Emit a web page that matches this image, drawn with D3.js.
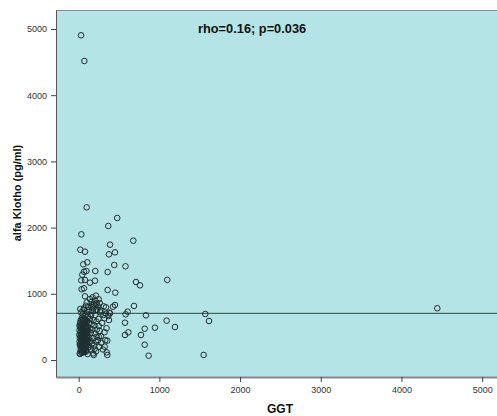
<!DOCTYPE html>
<html>
<head>
<meta charset="utf-8">
<script src="https://cdn.jsdelivr.net/npm/d3@7"></script>
<style>
  body { margin: 0; background: #fff; }
  text { font-family: Arial, "Liberation Sans", sans-serif; }
</style>
</head>
<body>
<svg id="chart" width="497" height="416"></svg>
<script>
// GGT (x) and alfa Klotho (y) values
const ggt = [
  29, 70, 99, 478, 367, 33, 677, 388, 20, 78, 450, 375, 57, 107, 441, 580, 359, 206, 66, 95,
  45, 32, 78, 140, 202, 710, 760, 1098, 37, 66, 359, 454, 78, 173, 214, 248, 206, 160, 685, 450,
  425, 338, 607, 582, 834, 380, 388, 367, 375, 318, 574, 1090, 945, 1193, 818, 615, 574, 772, 818, 867,
  1569, 1615, 1549, 4444, 248, 248, 223, 355, 322, 347, 355, 186, 90, 16,
  20, 66, 107, 161, 190, 223, 243, 214, 268, 310,
  12, 15, 18, 20, 22, 25, 25, 28, 30, 32, 35, 35, 38, 40, 42, 45, 45, 48, 50, 50,
  52, 55, 55, 58, 60, 60, 62, 65, 65, 68, 70, 70, 72, 75, 75, 78, 80, 80, 82, 85,
  85, 88, 90, 90, 92, 95, 95, 98, 100, 100, 105, 105, 110, 110, 115, 115, 120, 120, 125, 130,
  130, 135, 140, 140, 145, 150, 155, 155, 160, 165, 170, 175, 180, 185, 190, 195, 200, 205, 210, 215,
  220, 225, 230, 240, 245, 255, 260, 270, 275, 280, 290, 300, 305, 320, 330, 340, 345, 220, 170, 120,
  60, 30, 100, 140, 180, 260, 90, 50, 10, 8, 15, 40, 65, 110, 200, 180,
  10, 14, 18, 22, 26, 30, 34, 38, 42, 46, 50, 54, 58, 62, 66, 70, 74, 78, 82, 86,
  90, 94, 98, 102, 106, 24, 36, 48, 60, 72, 84, 96, 44, 56, 68
];
const klotho = [
  4905, 4517, 2306, 2145, 2024, 1898, 1802, 1742, 1666, 1636, 1626, 1596, 1445, 1475, 1435, 1415, 1329, 1344, 1334, 1344,
  1289, 1203, 1208, 1168, 1198, 1178, 1128, 1210, 1068, 1083, 1057, 1017, 962, 947, 972, 917, 896, 880, 816, 830,
  805, 796, 730, 690, 675, 715, 705, 665, 604, 630, 563, 594, 488, 498, 473, 418, 378, 378, 231, 65,
  695, 589, 76, 781, 514, 352, 352, 292, 201, 116, 76, 76, 125, 91,
  770, 780, 755, 805, 840, 855, 805, 755, 755, 810,
  280, 330, 220, 420, 500, 180, 600, 260, 370, 310, 450, 150, 540, 230, 640, 350, 290, 410, 200, 520,
  470, 580, 260, 330, 160, 390, 620, 450, 230, 540, 300, 500, 180, 370, 660, 430, 250, 560, 330, 200,
  480, 600, 280, 400, 520, 350, 150, 700, 440, 230, 590, 300, 500, 380, 190, 650, 270, 440, 560, 340,
  730, 200, 480, 620, 290, 410, 680, 160, 540, 250, 460, 740, 330, 600, 220, 520, 400, 680, 280, 130,
  580, 460, 760, 300, 620, 200, 440, 720, 360, 260, 560, 160, 680, 420, 300, 700, 480, 840, 830, 800,
  760, 720, 870, 920, 780, 860, 820, 690, 520, 380, 100, 110, 120, 90, 170, 100,
  450, 240, 560, 130, 380, 480, 210, 610, 330, 170, 440, 270, 510, 140, 360, 590, 230, 470, 310, 550,
  190, 420, 250, 340, 470, 520, 300, 360, 420, 280, 140, 390, 120, 610, 200
];
const refLine = 705;
const xTicks = [0, 1000, 2000, 3000, 4000, 5000];
const yTicks = [0, 1000, 2000, 3000, 4000, 5000];
const annotation = "rho=0.16; p=0.036";

const svg = d3.select("#chart");
const plot = { left: 56, top: 10, right: 505, bottom: 377 };

const x = d3.scaleLinear().domain([-281, 5283]).range([plot.left, plot.right]);
const y = d3.scaleLinear().domain([-257, 5287]).range([plot.bottom, plot.top]);

// plot background
svg.append("rect")
  .attr("x", plot.left).attr("y", plot.top)
  .attr("width", plot.right - plot.left).attr("height", plot.bottom - plot.top)
  .attr("fill", "#b4e4e6");

// top frame line
svg.append("line").attr("x1", plot.left).attr("x2", plot.right)
  .attr("y1", plot.top + 0.5).attr("y2", plot.top + 0.5)
  .attr("stroke", "#8a8a8a").attr("stroke-width", 1);

// axes
const xAxis = svg.append("g")
  .attr("transform", `translate(0,${plot.bottom})`)
  .call(d3.axisBottom(x).tickValues(xTicks).tickSize(5).tickSizeOuter(0).tickFormat(d3.format("d")));
xAxis.select(".domain").attr("stroke", "#888").attr("stroke-width", 2);

const yAxis = svg.append("g")
  .attr("transform", `translate(${plot.left},0)`)
  .call(d3.axisLeft(y).tickValues(yTicks).tickSize(5).tickSizeOuter(0).tickFormat(d3.format("d")));
yAxis.select(".domain").attr("stroke", "#555");

svg.selectAll(".tick line").attr("stroke", "#444");
svg.selectAll(".tick text")
  .attr("font-family", "Arial, 'Liberation Sans', sans-serif")
  .attr("font-size", 9).attr("fill", "#333");
xAxis.selectAll(".tick text").attr("dy", "0.9em");
yAxis.selectAll(".tick text").attr("dx", "-1px");

// reference line
svg.append("line")
  .attr("x1", plot.left).attr("x2", plot.right)
  .attr("y1", y(refLine)).attr("y2", y(refLine))
  .attr("stroke", "#2b4646").attr("stroke-width", 1);

// points
svg.append("g")
  .selectAll("circle")
  .data(ggt.map((g, i) => ({ g, k: klotho[i] })))
  .enter().append("circle")
  .attr("cx", d => x(d.g))
  .attr("cy", d => y(d.k))
  .attr("r", 2.8)
  .attr("fill", "none")
  .attr("stroke", "#1f2f30")
  .attr("stroke-width", 1);

// annotation
svg.append("text")
  .attr("x", 198).attr("y", 33)
  .attr("font-size", 12.8).attr("font-weight", "bold").attr("fill", "#111")
  .text(annotation);

// axis titles
svg.append("text")
  .attr("x", 280).attr("y", 413)
  .attr("text-anchor", "middle")
  .attr("font-size", 12).attr("font-weight", "bold").attr("fill", "#111")
  .text("GGT");

svg.append("text")
  .attr("transform", "translate(21,193) rotate(-90)")
  .attr("text-anchor", "middle")
  .attr("font-size", 11).attr("font-weight", "bold").attr("fill", "#111")
  .text("alfa Klotho (pg/ml)");
</script>
</body>
</html>
